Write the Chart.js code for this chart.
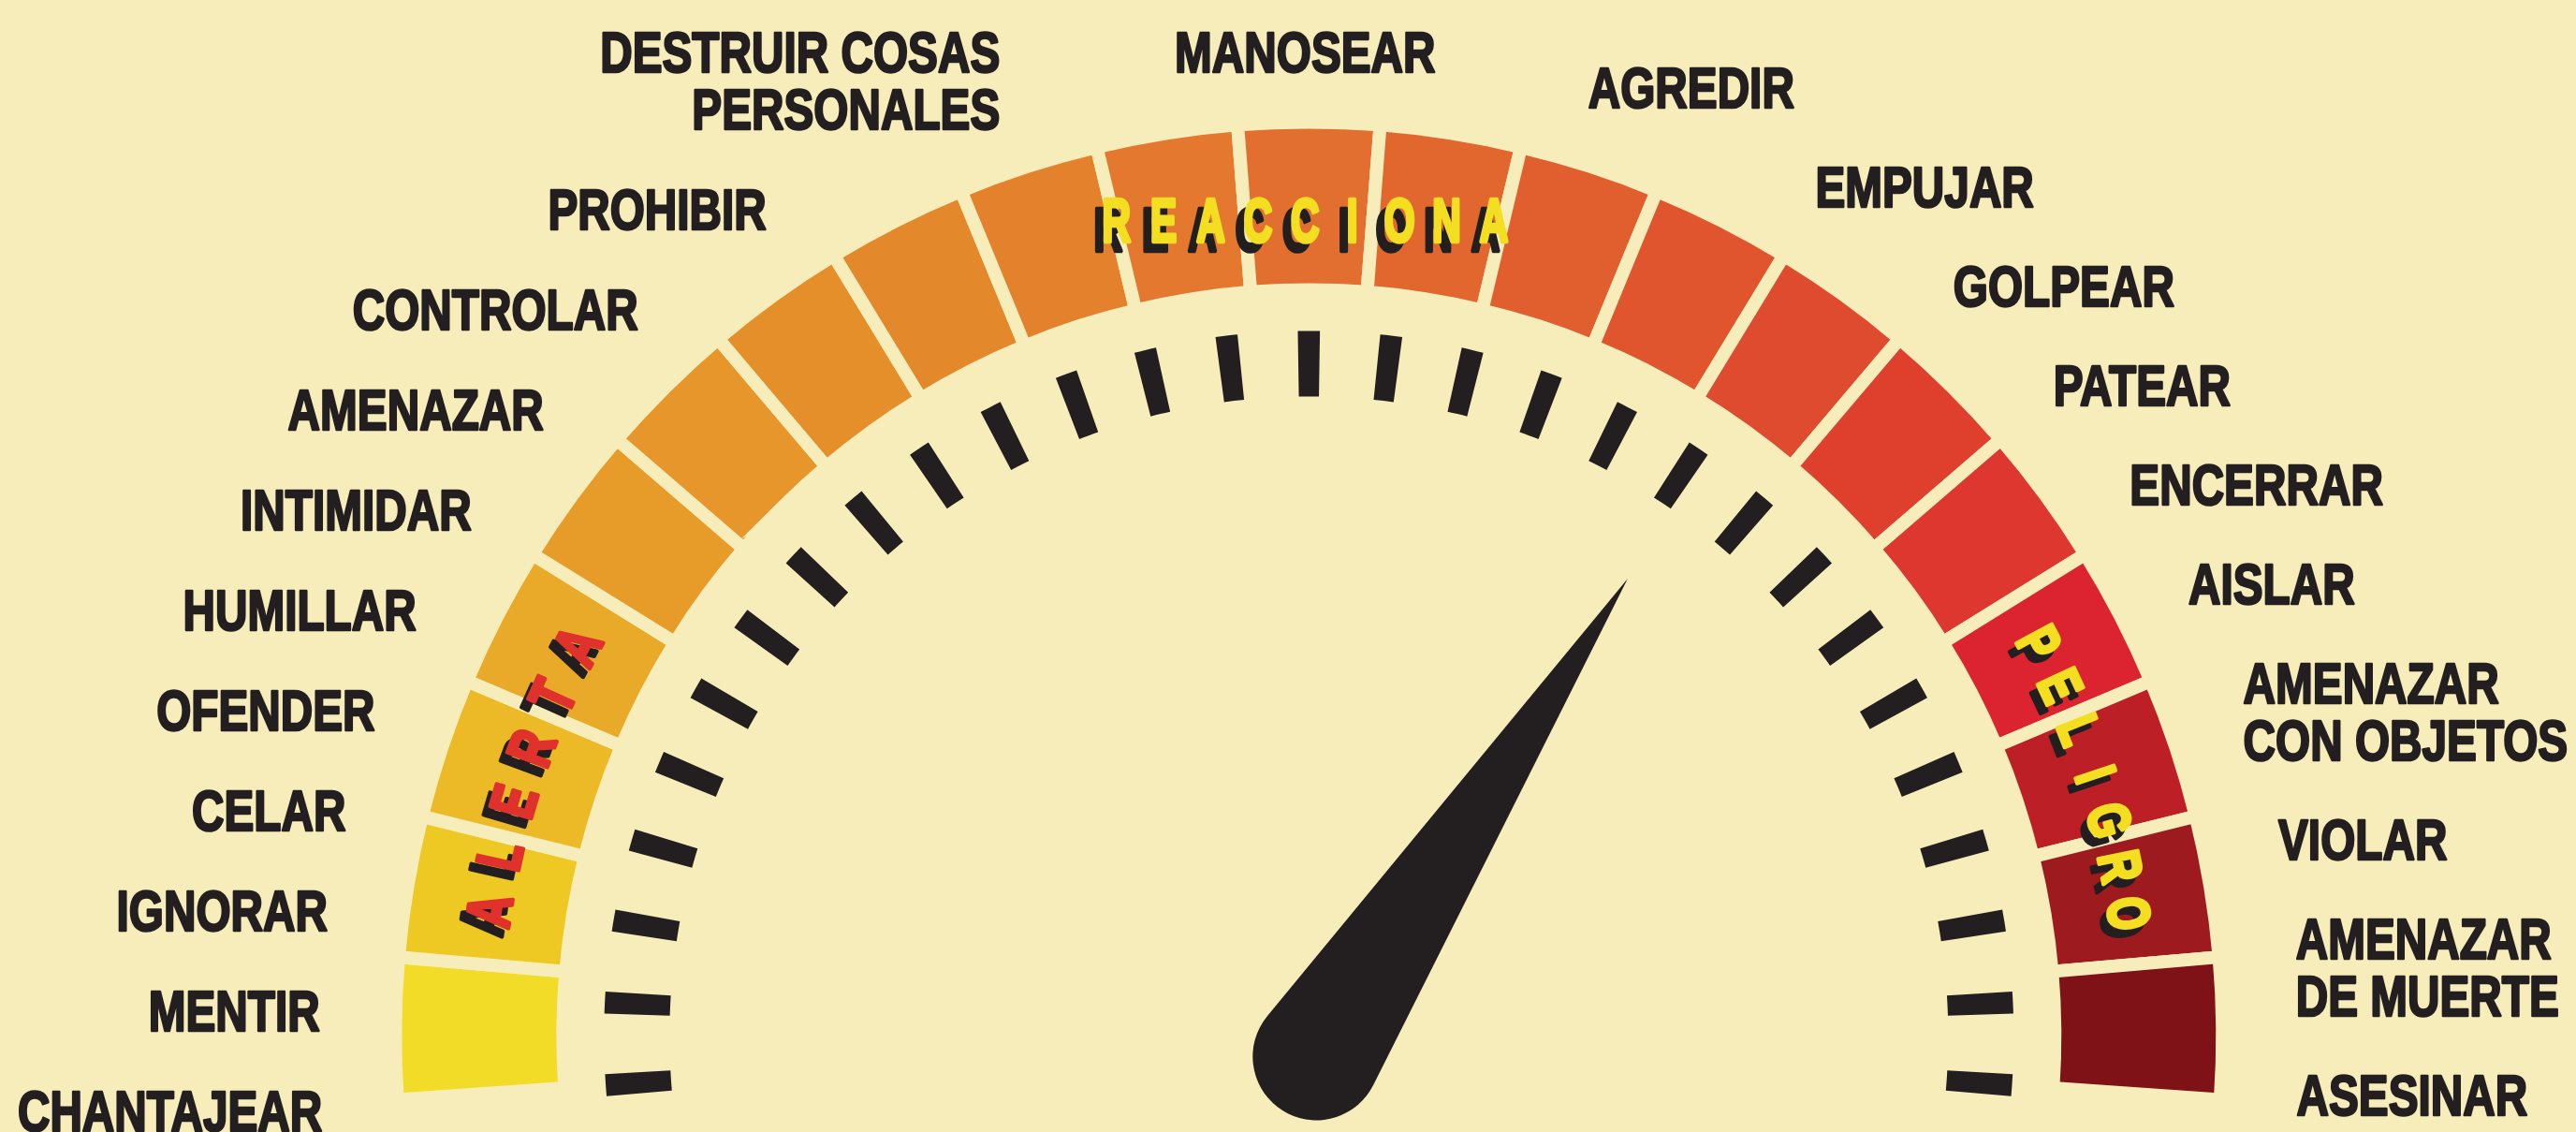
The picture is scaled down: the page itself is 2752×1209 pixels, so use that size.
<!DOCTYPE html>
<html>
<head>
<meta charset="utf-8">
<script src="https://cdn.jsdelivr.net/npm/chart.js@4.4.0/dist/chart.umd.min.js"></script>
<style>
  html, body { margin: 0; padding: 0; background: #F7EDBB; overflow: hidden; }
  #wrap { position: relative; width: 2752px; height: 1209px; }
</style>
</head>
<body>
<div id="wrap"><canvas id="c"></canvas></div>
<script>
// ---- data ----
const violenceLabels = [
  "CHANTAJEAR", "MENTIR", "IGNORAR", "CELAR", "OFENDER", "HUMILLAR",
  "INTIMIDAR", "AMENAZAR", "CONTROLAR", "PROHIBIR", ["DESTRUIR COSAS", "PERSONALES"],
  "MANOSEAR",
  "AGREDIR", "EMPUJAR", "GOLPEAR", "PATEAR", "ENCERRAR", "AISLAR",
  ["AMENAZAR", "CON OBJETOS"], "VIOLAR", ["AMENAZAR", "DE MUERTE"], "ASESINAR"
];
const segmentValues = [1, 1, 1, 1, 1, 1, 1, 1, 1, 1, 1, 1, 1, 1, 1, 1, 1, 1, 1, 1, 1];
const segmentColors = [
  "#F2DC28", "#EFC923", "#ECBA26", "#E9AA29", "#E79C2A", "#E6962A", "#E58F2B",
  "#E4882C", "#E4812D", "#E3782E", "#E26E2F", "#E2672F", "#E15F2E", "#E0552E",
  "#DF4B2E", "#DF402E", "#DE372F", "#DC2430", "#BD1F26", "#9D1A1F", "#7F1216"
];
const tickPattern = [
  1.8, 4.914, 1.8, 4.914, 1.8, 4.914, 1.8, 4.914, 1.8, 4.914, 1.8, 4.914, 1.8, 4.914,
  1.8, 4.914, 1.8, 4.914, 1.8, 4.914, 1.8, 4.914, 1.8, 4.914, 1.8, 4.914, 1.8, 4.914,
  1.8, 4.914, 1.8, 4.914, 1.8, 4.914, 1.8, 4.914, 1.8, 4.914, 1.8, 4.914, 1.8, 4.914,
  1.8, 4.914, 1.8, 4.914, 1.8, 4.914, 1.8, 4.914, 1.8, 4.914, 1.8, 4.914, 1.8, 4.914,
  1.8
];
const zoneWords = ["ALERTA", "REACCIONA", "PELIGRO"];
const zoneSegments = [2, 10, 18];
const needleValue = 67.6; // percent of the gauge sweep

// ---- styles ----
const BG = "#F7EDBB";
const INK = "#231F20";
const LABEL_FONT = 'bold 62px "Liberation Sans", Arial, sans-serif';

const gaugePlugin = {
  id: "gaugeDecor",
  afterDatasetsDraw(chart) {
    const ctx = chart.ctx;
    const segMeta = chart.getDatasetMeta(0);
    const first = segMeta.data[0];
    const last = segMeta.data[segMeta.data.length - 1];
    const cx = first.x, cy = first.y;
    const outerR = first.outerRadius, innerR = first.innerRadius;
    const tickInner = chart.getDatasetMeta(2).data[0].innerRadius;

    // ---------- category labels ----------
    ctx.save();
    ctx.fillStyle = INK;
    ctx.strokeStyle = INK;
    ctx.lineWidth = 2.6;
    ctx.lineJoin = "round";
    ctx.font = LABEL_FONT;
    const capH = 44.4, sx = 0.77;
    const labelR = outerR + 81;
    const drawLine = (t, x, yMid, align) => {
      ctx.save();
      ctx.translate(x, yMid + capH / 2);
      ctx.scale(sx, 1);
      ctx.textAlign = align;
      ctx.textBaseline = "alphabetic";
      ctx.fillText(t, 0, 0);
      ctx.strokeText(t, 0, 0);
      ctx.restore();
    };
    const topIdx = Math.floor(violenceLabels.length / 2);
    const placeSide = (indices, startY, step, side) => {
      let y = startY;
      indices.forEach(i => {
        const lines = [].concat(violenceLabels[i]);
        const lineYs = lines.map((_, k) => y - (lines.length - 1 - k) * 61);
        const blockMid = (lineYs[0] + lineYs[lineYs.length - 1]) / 2;
        let dy = blockMid - cy;
        if (lines.length > 1) dy = Math.max(dy, -0.95 * labelR);
        const dx = Math.sqrt(Math.max(labelR * labelR - dy * dy, 0));
        const x = side < 0 ? cx - dx : cx + dx;
        lines.forEach((t, k) => drawLine(t, x, lineYs[k], side < 0 ? "right" : "left"));
        y = lineYs[0] - step;
      });
    };
    const leftIdx = [], rightIdx = [];
    for (let i = 0; i < topIdx; i++) leftIdx.push(i);
    for (let i = violenceLabels.length - 1; i > topIdx; i--) rightIdx.push(i);
    placeSide(leftIdx, cy + 79, 107, -1);
    placeSide(rightIdx, cy + 62, 106, 1);
    drawLine(violenceLabels[topIdx], cx - 4, cy - labelR * 0.995, "center");
    ctx.restore();

    // ---------- zone words ----------
    ctx.save();
    ctx.textAlign = "center";
    ctx.textBaseline = "alphabetic";
    ctx.lineWidth = 4.5;
    ctx.lineJoin = "round";
    const midR = (outerR + innerR) / 2;
    const drawLetter = (ch, x, y, rot, color, shx, shy, size, scx) => {
      ctx.font = 'bold ' + size + 'px "Liberation Sans", Arial, sans-serif';
      const cap = size * 0.716;
      [[INK, shx, shy], [color, 0, 0]].forEach(([c, ox, oy]) => {
        ctx.save();
        ctx.translate(x + ox, y + oy);
        ctx.rotate(rot);
        ctx.scale(scx, 1);
        ctx.fillStyle = c;
        ctx.strokeStyle = c;
        ctx.fillText(ch, 0, cap / 2);
        ctx.strokeText(ch, 0, cap / 2);
        ctx.restore();
      });
    };
    zoneWords.forEach((word, w) => {
      const seg = segMeta.data[zoneSegments[w]];
      const mid = (seg.startAngle + seg.endAngle) / 2;
      const letters = word.split("");
      const n = letters.length;
      if (Math.abs(mid + Math.PI / 2) < 0.2) {
        const yMid = cy + Math.sin(mid) * (midR - 15);
        const x0 = cx + Math.cos(mid) * midR - 4;
        letters.forEach((ch, k) => {
          drawLetter(ch, x0 + (k - (n - 1) / 2) * 50.4, yMid, 0, "#F4DE22", -9, 10, 64, 0.66);
        });
      } else {
        const color = w === 0 ? "#E0322C" : "#F4DE22";
        const step = (w === 0 ? 60 : 51) / midR;
        letters.forEach((ch, k) => {
          const a = mid + (k - (n - 1) / 2) * step;
          drawLetter(ch, cx + midR * Math.cos(a), cy + midR * Math.sin(a), a + Math.PI / 2,
                     color, -7, 9, w === 0 ? 66 : 62, 0.72);
        });
      }
    });
    ctx.restore();

    // ---------- needle ----------
    ctx.save();
    const start = first.startAngle, end = last.endAngle;
    const a = start + needleValue / 100 * (end - start);
    const hx = cx + 8, hy = cy + 22, hr = 68;
    const L = tickInner * 0.892;
    const tx = hx + L * Math.cos(a), ty = hy + L * Math.sin(a);
    const alpha = Math.acos(hr / L);
    ctx.fillStyle = INK;
    ctx.beginPath();
    ctx.moveTo(tx, ty);
    ctx.arc(hx, hy, hr, a + alpha, a - alpha + Math.PI * 2, false);
    ctx.closePath();
    ctx.fill();
    ctx.restore();
  }
};

new Chart(document.getElementById("c"), {
  type: "doughnut",
  data: {
    labels: segmentValues.map((_, i) => "segment " + (i + 1)),
    datasets: [
      {
        data: segmentValues,
        backgroundColor: segmentColors,
        borderColor: BG,
        borderWidth: 14,
        borderJoinStyle: "miter",
        weight: 179
      },
      {
        data: [1],
        backgroundColor: "rgba(0,0,0,0)",
        borderWidth: 0,
        weight: 44
      },
      {
        data: tickPattern,
        backgroundColor: c => (c.dataIndex % 2 === 0 ? INK : "rgba(0,0,0,0)"),
        borderWidth: 0,
        rotation: -94.9,
        circumference: 189.8,
        weight: 70
      }
    ]
  },
  options: {
    responsive: true,
    maintainAspectRatio: false,
    animation: false,
    events: [],
    rotation: -94,
    circumference: 188,
    radius: 976,
    cutout: "69.98%",
    layout: { padding: { left: 44.6, top: 111.2, right: 0, bottom: 0 } },
    plugins: { legend: { display: false }, tooltip: { enabled: false } }
  },
  plugins: [gaugePlugin]
});
</script>
</body>
</html>
